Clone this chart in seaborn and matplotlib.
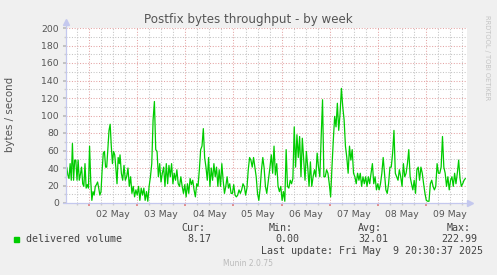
import numpy as np
import pandas as pd
import matplotlib
matplotlib.use("Agg")
import matplotlib.pyplot as plt
import matplotlib.dates as mdates
from matplotlib.ticker import FuncFormatter, MultipleLocator
import seaborn as sns

# ---- data (bytes / second) ----
seg_a_vals = [41, 32, 28, 45, 26, 68, 26, 49, 49, 26, 49, 26, 33, 41, 22, 19, 45, 17, 21, 17,
              65, 26, 3, 13, 9, 19, 21, 24, 17, 9, 13, 38, 57, 59, 41, 41, 62, 83, 90, 65,
              45, 59, 55, 40, 22, 52, 45]
seg_b_vals = [55, 34, 26, 43, 26, 30, 40, 19, 30, 11, 19, 7, 15, 9, 19, 3, 17, 9, 17, 3,
              13, 2, 19, 30, 45, 95, 116, 61, 59, 30, 45, 24, 34, 41, 19, 45, 22, 43, 30, 45,
              22, 34, 26, 38, 22, 19, 30, 19, 11, 21, 7, 22, 11, 28, 21, 26, 15, 7, 22, 19,
              38, 61, 65, 85, 52, 41, 26, 52, 19, 40, 26, 45, 30, 41, 19, 38, 19, 45, 26, 11,
              19, 30, 17, 22, 11, 11, 21, 9, 7, 9, 15, 11, 15, 22, 19, 9, 17, 38, 52, 49,
              41, 52, 41, 30, 11, 3, 17, 38, 52, 40, 19, 11]
seg_c_vals = [41, 55, 34, 65, 32, 45, 19, 13, 19, 3, 13, 2, 61, 19, 17, 26, 22, 28, 87, 41,
              78, 52, 76, 30, 74, 49, 26, 59, 41, 19, 47, 19, 30, 38, 30, 57, 41, 30, 76, 118,
              30, 30, 38, 34, 22, 7, 41, 72, 99, 87, 114, 83, 102, 131, 110, 95, 65, 52, 34, 65,
              49, 61, 34, 30, 22, 34, 26, 34, 19, 30, 22, 30, 19, 30, 22, 34, 45, 22, 30, 15,
              22, 15, 22, 34, 52, 34, 15, 11, 22, 41, 41, 57, 83, 34, 30, 26, 38, 30, 19, 45,
              30, 34, 45, 61, 30, 22, 15, 26, 11, 38, 41, 26, 41, 34, 22, 11, 3, 2, 2, 22,
              26, 19, 15, 19, 45, 34, 34, 41, 76, 41, 34, 19, 30, 15, 26, 30, 19, 34, 22, 34,
              49, 28, 19, 22, 26, 28]
seg_a_span = ("2025-05-01 12:53", "2025-05-02 15:06")
seg_b_span = ("2025-05-02 15:28", "2025-05-05 16:36")
seg_c_span = ("2025-05-05 18:12", "2025-05-09 19:36")
x_span = ("2025-05-01 12:32", "2025-05-09 20:24")
y_ticks = list(range(0, 201, 20))

series_name = "delivered volume"
stat_headers = ["Cur:", "Min:", "Avg:", "Max:"]
stat_values = ["8.17", "0.00", "32.01", "222.99"]
title = "Postfix bytes throughput - by week"
ylabel = "bytes / second"
last_update = "Last update: Fri May  9 20:30:37 2025"
footer = "Munin 2.0.75"
side_text = "RRDTOOL / TOBI OETIKER"

frames = []
for vals, span in [(seg_a_vals, seg_a_span), (seg_b_vals, seg_b_span), (seg_c_vals, seg_c_span)]:
    t = pd.date_range(span[0], span[1], periods=len(vals))
    frames.append(pd.DataFrame({"time": t, "value": vals}))
df = pd.concat(frames, ignore_index=True)

# ---- style ----
W, H = 497, 275
sns.set_theme(style="white")
plt.rcParams["font.family"] = ["DejaVu Sans"]
fig = plt.figure(figsize=(W / 100, H / 100), dpi=100, facecolor="#F0F0F0")

def px(x, y):
    return x / W, 1 - y / H

L, R, T, B = 66, 467, 28, 203
ax = fig.add_axes([L / W, 1 - B / H, (R - L) / W, (B - T) / H])
ax.set_facecolor("white")

sns.lineplot(data=df, x="time", y="value", ax=ax, color="#00CC00", lw=0.9, zorder=5)

ax.set_xlim(pd.Timestamp(x_span[0]), pd.Timestamp(x_span[1]))
ax.set_ylim(0, 200)
ax.set_xlabel("")
ax.set_ylabel("")

tick_col = "#555555"
red = "#E4A4A4"
grey = "#C4C4C4"
dot = (0, (1, 1.6))

# y grid
ax.set_yticks(y_ticks)
ax.yaxis.set_minor_locator(MultipleLocator(10))
ax.grid(True, which="minor", axis="y", color=grey, lw=0.75, ls=dot)
ax.grid(True, which="major", axis="y", color=red, lw=0.75, ls=dot)

# x grid: midnight (major, red), 6h minor (grey), labels at noon
ax.xaxis.set_major_locator(mdates.DayLocator())
ax.xaxis.set_major_formatter(FuncFormatter(lambda v, p: ""))
ax.xaxis.set_minor_locator(mdates.HourLocator(byhour=[0, 6, 12, 18]))

def noon_fmt(v, p):
    d = mdates.num2date(v)
    return d.strftime("%d %b") if d.hour == 12 else ""

ax.xaxis.set_minor_formatter(FuncFormatter(noon_fmt))
ax.grid(True, which="minor", axis="x", color=grey, lw=0.75, ls=dot)
ax.grid(True, which="major", axis="x", color=red, lw=0.75, ls=dot)

ax.tick_params(axis="y", which="major", labelsize=6.7, labelcolor=tick_col, length=2,
               color="#BBBBBB", pad=3, left=True)
ax.tick_params(axis="y", which="minor", length=1.5, color="#CCCCCC", left=True)
ax.tick_params(axis="x", which="major", length=2, color="#E08080", bottom=True)
ax.tick_params(axis="x", which="minor", labelsize=6.7, labelcolor=tick_col, length=1.5,
               color="#CCCCCC", pad=3.5, bottom=True)

for s in ax.spines.values():
    s.set_visible(False)
axcol = "#C4C8EE"
ax.plot([0, 0], [0, 1.02], transform=ax.transAxes, color=axcol, lw=0.9, clip_on=False, zorder=6)
ax.plot([-0.008, 1.0], [0, 0], transform=ax.transAxes, color=axcol, lw=0.9, clip_on=False, zorder=6)
ax.plot([0], [1.035], marker="^", ms=4, color=axcol, transform=ax.transAxes, clip_on=False, zorder=6)
ax.plot([1.008], [0], marker=">", ms=4, color=axcol, transform=ax.transAxes, clip_on=False, zorder=6)

# texts
fig.text(*px(248.5, 19), title, ha="center", va="center", fontsize=8.6, color="#555555")
fig.text(*px(10, 114), ylabel, ha="center", va="center", rotation=90, fontsize=7.4, color="#555555")
fig.text(*px(487, 58), side_text, ha="center", va="center", rotation=-90, fontsize=4.8, color="#C4C4C4")

mono = "DejaVu Sans Mono"
fig.patches.append(plt.Rectangle(px(14, 242), 5 / W, 5 / H, transform=fig.transFigure,
                                 color="#00CC00", figure=fig))
fig.text(*px(26, 239.5), series_name, ha="left", va="center", fontsize=7.2, family=mono, color="#444444")
for hx, h in zip([181, 269, 358, 447], stat_headers):
    fig.text(*px(hx, 228), h, ha="left", va="center", fontsize=7.2, family=mono, color="#444444")
for vx, v in zip([211, 299, 388, 477], stat_values):
    fig.text(*px(vx, 239.5), v, ha="right", va="center", fontsize=7.2, family=mono, color="#444444")
fig.text(*px(483, 251.5), last_update, ha="right", va="center", fontsize=7.2, family=mono, color="#444444")
fig.text(*px(248, 264), footer, ha="center", va="center", fontsize=5.5, color="#BBBBBB")

fig.savefig("out.png", dpi=100, facecolor="#F0F0F0")
